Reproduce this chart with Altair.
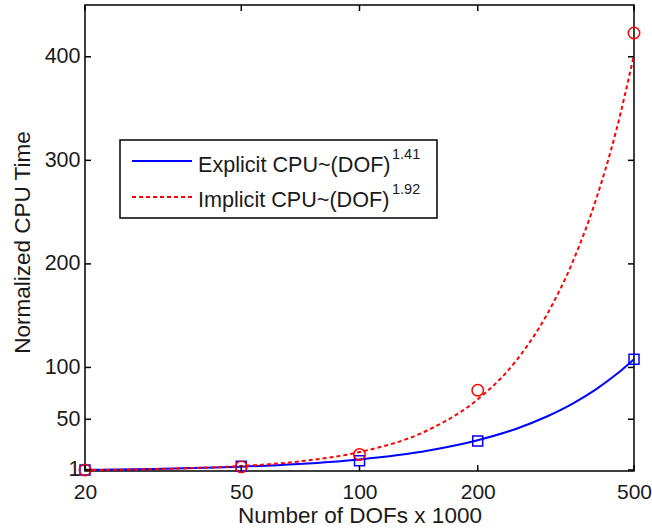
import altair as alt
import pandas as pd

# measured points
x_pts = [20, 50, 100, 200, 500]
explicit_pts = [1, 4.5, 10, 29, 108]
implicit_pts = [1, 4, 16, 78, 423]

# fitted curves
x_fit = [20, 30, 40, 50, 70, 100, 150, 200, 250, 300, 350, 400, 450, 500]
explicit_fit = [1.15, 2.0, 3.1, 4.2, 6.8, 11.2, 19.8, 29.7, 40.6, 52.6, 65.3, 78.8, 93.1, 108]
implicit_fit = [0.85, 1.8, 3.15, 4.8, 9.2, 18.3, 39.8, 69.2, 106, 151, 203, 262, 328, 402]

x_ticks = [20, 50, 100, 200, 500]
y_ticks = [1, 50, 100, 200, 300, 400]

W, H = 549, 466
FONT = "Liberation Sans"
TXT = "#1a1a1a"

pts = pd.DataFrame({"x": x_pts, "exp": explicit_pts, "imp": implicit_pts})
fit = pd.DataFrame({"x": x_fit, "exp": explicit_fit, "imp": implicit_fit})
xt = pd.DataFrame({"v": x_ticks})
yt = pd.DataFrame({"v": y_ticks})
one = pd.DataFrame({"a": [0]})

xs = alt.Scale(type="log", domain=[20, 500], nice=False)
ys = alt.Scale(domain=[0, 450], nice=False, zero=False)

xaxis = alt.Axis(values=x_ticks, ticks=False, domain=False, grid=False, labelFlush=False,
                 labelFontSize=21, labelPadding=10, title="Number of DOFs x 1000",
                 titleFontSize=22.5, titleFontWeight="normal", titleX=W / 2, titleY=44,
                 titleBaseline="middle", labelExpr="datum.value")
yaxis = alt.Axis(values=y_ticks, ticks=False, domain=False, grid=False, labelFlush=False,
                 labelFontSize=21.5, labelPadding=5, title="Normalized CPU Time",
                 titleFontSize=22.5, titleFontWeight="normal", titleX=-63, titleY=H / 2 + 4,
                 titleAngle=-90, titleAlign="center", titleBaseline="middle")

exp_line = alt.Chart(fit).mark_line(color="#0000ff", strokeWidth=2, interpolate="monotone").encode(
    x=alt.X("x:Q", scale=xs, axis=xaxis),
    y=alt.Y("exp:Q", scale=ys, axis=yaxis),
)
imp_line = alt.Chart(fit).mark_line(color="#ff0000", strokeWidth=2, strokeDash=[4, 3],
                                    interpolate="monotone").encode(
    x=alt.X("x:Q", scale=xs), y=alt.Y("imp:Q", scale=ys))
exp_pts = alt.Chart(pts).mark_point(shape="square", color="#0000ff", size=100, strokeWidth=1.5,
                                    filled=False, opacity=1).encode(
    x=alt.X("x:Q", scale=xs), y=alt.Y("exp:Q", scale=ys))
imp_pts = alt.Chart(pts).mark_point(shape="circle", color="#ff0000", size=130, strokeWidth=1.5,
                                    filled=False, opacity=1).encode(
    x=alt.X("x:Q", scale=xs), y=alt.Y("imp:Q", scale=ys))

tk = dict(color="black", strokeWidth=1.5)
xt_bot = alt.Chart(xt).mark_rule(**tk).encode(x=alt.X("v:Q", scale=xs), y=alt.value(H), y2=alt.value(H - 6))
xt_top = alt.Chart(xt).mark_rule(**tk).encode(x=alt.X("v:Q", scale=xs), y=alt.value(0), y2=alt.value(6))
yt_l = alt.Chart(yt).mark_rule(**tk).encode(y=alt.Y("v:Q", scale=ys), x=alt.value(0), x2=alt.value(6))
yt_r = alt.Chart(yt).mark_rule(**tk).encode(y=alt.Y("v:Q", scale=ys), x=alt.value(W), x2=alt.value(W - 6))

leg_box = alt.Chart(one).mark_rect(fill="white", stroke="black", strokeWidth=1.5).encode(
    x=alt.value(35), x2=alt.value(352), y=alt.value(135), y2=alt.value(213))
leg_l1 = alt.Chart(one).mark_rule(color="#0000ff", strokeWidth=2).encode(
    x=alt.value(47), x2=alt.value(107), y=alt.value(156))
leg_l2 = alt.Chart(one).mark_rule(color="#ff0000", strokeWidth=2, strokeDash=[4, 3]).encode(
    x=alt.value(47), x2=alt.value(107), y=alt.value(192))
tprops = dict(font=FONT, fontSize=21.6, color=TXT, align="left", baseline="alphabetic")
leg_t1 = alt.Chart(one).mark_text(text="Explicit CPU~(DOF)", **tprops).encode(x=alt.value(113), y=alt.value(167))
leg_t2 = alt.Chart(one).mark_text(text="Implicit CPU~(DOF)", **tprops).encode(x=alt.value(113), y=alt.value(202))
sprops = dict(font=FONT, fontSize=14.5, color=TXT, align="left", baseline="alphabetic")
leg_s1 = alt.Chart(one).mark_text(text="1.41", **sprops).encode(x=alt.value(307), y=alt.value(154))
leg_s2 = alt.Chart(one).mark_text(text="1.92", **sprops).encode(x=alt.value(307), y=alt.value(189))

chart = alt.layer(
    exp_line, imp_line, exp_pts, imp_pts, xt_bot, xt_top, yt_l, yt_r,
    leg_box, leg_l1, leg_l2, leg_t1, leg_t2, leg_s1, leg_s2,
).properties(
    width=W, height=H,
    autosize=alt.AutoSizeParams(type="none"),
    padding={"left": 85, "top": 5, "right": 18, "bottom": 59},
    background="white",
).configure_view(
    stroke="black", strokeWidth=1.5
).configure_axis(
    labelFont=FONT, titleFont=FONT, labelColor=TXT, titleColor=TXT
)

chart.save("out.html", embed_options={"renderer": "svg", "actions": False})
